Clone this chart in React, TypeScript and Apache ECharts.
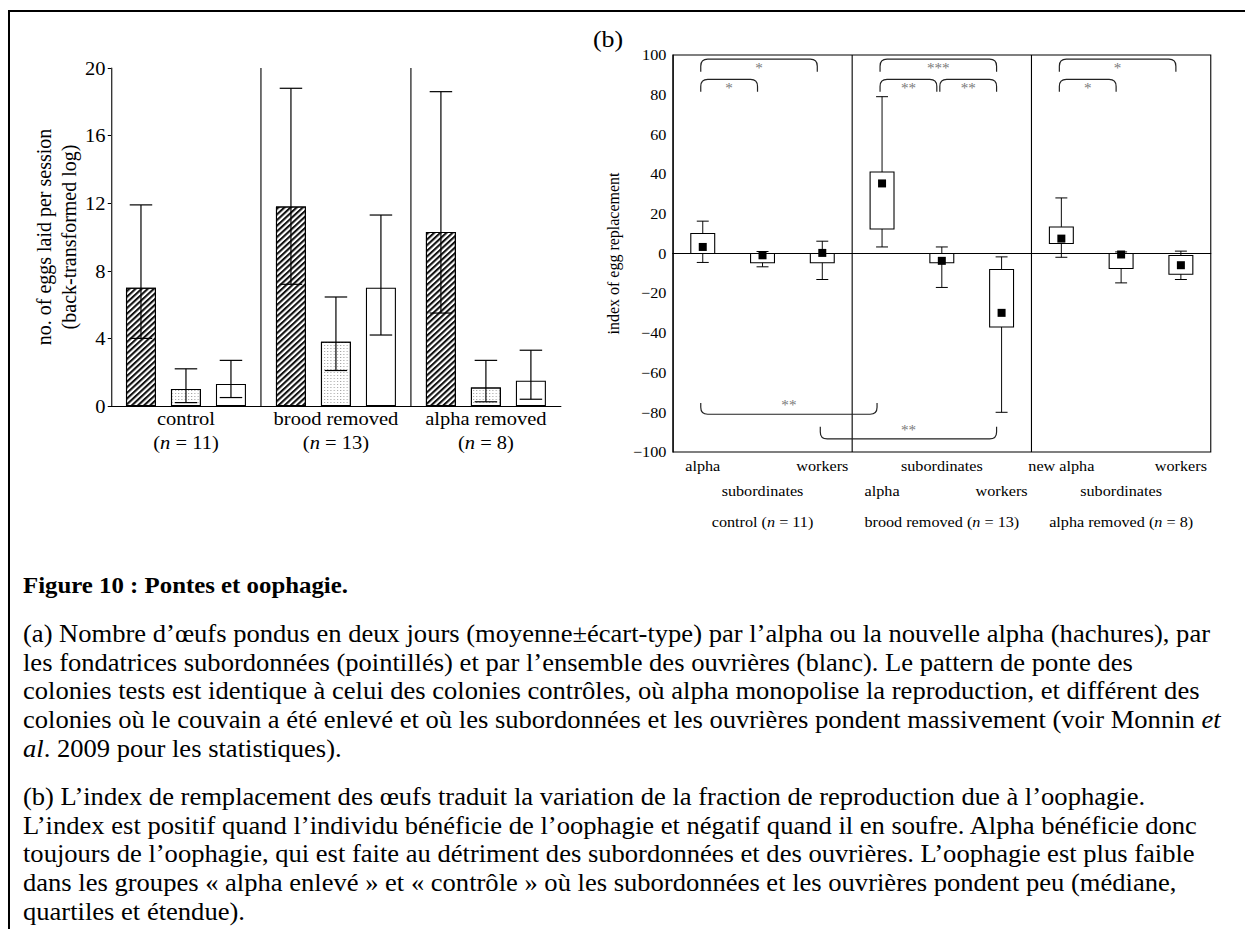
import React, { useEffect, useRef } from "react";
import * as echarts from "echarts";

const SERIF = "'Liberation Serif', 'Times New Roman', serif";
// the reference figure is slightly stretched horizontally
const S = 1.08;
const W = Math.round(1245 / S);
const H = 929;

// ---------- panel (a) ----------
const groupsA = ["control", "brood removed", "alpha removed"];
const groupNsA = ["11", "13", "8"];
const alphaMean = [7.0, 11.8, 10.3];
const alphaLow = [4.0, 7.2, 5.5];
const alphaHigh = [11.9, 18.8, 18.6];
const subMean = [1.0, 3.8, 1.1];
const subLow = [0.2, 2.1, 0.25];
const subHigh = [2.2, 6.45, 2.7];
const workMean = [1.3, 7.0, 1.5];
const workLow = [0.5, 4.2, 0.4];
const workHigh = [2.7, 11.3, 3.3];
const yMinA = 0;
const yMaxA = 20;
const yStepA = 4;

// ---------- panel (b) ----------
const row1B = ["alpha", "", "workers", "", "subordinates", "", "new alpha", "", "workers"];
const row2B = ["", "subordinates", "", "alpha", "", "workers", "", "subordinates", ""];
const row3B = ["", "control", "", "", "brood removed", "", "", "alpha removed", ""];
const row3N = ["", "11", "", "", "13", "", "", "8", ""];
const boxMin = [-4.5, -6.7, -13.1, 3.3, -17.1, -80, -1.9, -14.8, -13.1];
const boxQ1 = [0, -4.7, -4.7, 12.4, -4.7, -37, 5.0, -7.5, -10.4];
const boxMed = [3.3, -0.9, 0.3, 35.3, -3.7, -29.9, 7.5, -0.5, -5.9];
const boxQ3 = [10.1, 0, 0, 41.1, 0, -8.1, 13.4, 0, -1.0];
const boxMax = [16.3, 1.0, 6.2, 79, 3.3, -1.7, 28, 0.8, 1.2];
const yMinB = -100;
const yMaxB = 100;
const yStepB = 20;
// significance brackets: from category, to category, line value, tip value, label
const brFrom = [0, 0, 3, 3, 4, 6, 6, 0, 2];
const brTo = [2, 1, 5, 4, 5, 8, 7, 3, 5];
const brLine = [97.9, 87.7, 97.9, 87.7, 87.7, 97.9, 87.7, -81, -93.4];
const brTip = [91.5, 81.5, 91.5, 81.5, 81.5, 91.5, 81.5, -75.3, -87.3];
const brLabel = ["*", "*", "***", "**", "**", "*", "*", "**", "**"];

// ---------- caption ----------
const captionTitle = "Figure 10 : Pontes et oophagie.";
const captionA = [
  "(a) Nombre d’œufs pondus en deux jours (moyenne±écart-type) par l’alpha ou la nouvelle alpha (hachures), par",
  "les fondatrices subordonnées (pointillés) et par l’ensemble des ouvrières (blanc). Le pattern de ponte des",
  "colonies tests est identique à celui des colonies contrôles, où alpha monopolise la reproduction, et différent des",
  "colonies où le couvain a été enlevé et où les subordonnées et les ouvrières pondent massivement (voir Monnin {i|et}",
  "{i|al}. 2009 pour les statistiques).",
];
const captionB = [
  "(b) L’index de remplacement des œufs traduit la variation de la fraction de reproduction due à l’oophagie.",
  "L’index est positif quand l’individu bénéficie de l’oophagie et négatif quand il en soufre. Alpha bénéficie donc",
  "toujours de l’oophagie, qui est faite au détriment des subordonnées et des ouvrières. L’oophagie est plus faible",
  "dans les groupes « alpha enlevé » et « contrôle » où les subordonnées et les ouvrières pondent peu (médiane,",
  "quartiles et étendue).",
];

function buildOption() {
  const errData: number[][] = [];
  const lows = [alphaLow, subLow, workLow];
  const highs = [alphaHigh, subHigh, workHigh];
  for (let g = 0; g < groupsA.length; g++) {
    for (let s = 0; s < 3; s++) errData.push([g, s, lows[s][g], highs[s][g]]);
  }
  const boxData = boxMin.map((_, i) => [i, boxMin[i], boxQ1[i], boxMed[i], boxQ3[i], boxMax[i]]);
  const brData = brFrom.map((_, i) => [brFrom[i], brTo[i], brLine[i], brTip[i], i]);

  const sepRender = (params: any, api: any) => {
    const top = api.coord([api.value(0), api.value(2)]);
    const bot = api.coord([api.value(0), api.value(1)]);
    const bw = api.size([1, 0])[0];
    const x = top[0] - bw / 2;
    return {
      type: "line",
      shape: { x1: x, y1: top[1], x2: x, y2: bot[1] },
      style: { stroke: "#000", lineWidth: 1.1 / S },
    };
  };

  const capFont = 24.6;
  const capX = 23 / S;
  const capStep = 28.6;
  const captionEls: any[] = [];
  captionEls.push({
    type: "text",
    x: capX,
    y: 585,
    style: {
      text: captionTitle,
      fontFamily: SERIF,
      fontSize: 23,
      fontWeight: "bold",
      fill: "#000",
      verticalAlign: "middle",
    },
  });
  captionA.forEach((t, i) => {
    captionEls.push({
      type: "text",
      x: capX,
      y: 634 + i * capStep,
      style: {
        text: t,
        fontFamily: SERIF,
        fontSize: capFont,
        fill: "#000",
        verticalAlign: "middle",
        rich: { i: { fontStyle: "italic", fontFamily: SERIF, fontSize: capFont, fill: "#000" } },
      },
    });
  });
  captionB.forEach((t, i) => {
    captionEls.push({
      type: "text",
      x: capX,
      y: 797 + i * capStep,
      style: { text: t, fontFamily: SERIF, fontSize: capFont, fill: "#000", verticalAlign: "middle" },
    });
  });

  const labelB = { interval: 0, fontSize: 15, color: "#000", fontFamily: SERIF, margin: 6 };

  return {
    animation: false,
    backgroundColor: "#fff",
    textStyle: { fontFamily: SERIF, color: "#000" },
    grid: [
      { left: 111 / S, top: 68, width: 450 / S, height: 338, show: false },
      {
        left: 673 / S,
        top: 55,
        width: 538 / S,
        height: 397,
        show: true,
        borderColor: "#000",
        borderWidth: 1,
        backgroundColor: "transparent",
      },
    ],
    xAxis: [
      {
        gridIndex: 0,
        type: "category",
        data: groupsA,
        axisLine: { lineStyle: { color: "#000", width: 1 } },
        axisTick: { show: false },
        splitLine: { show: false },
        axisLabel: {
          interval: 0,
          color: "#000",
          fontFamily: SERIF,
          fontSize: 19,
          lineHeight: 24,
          margin: 0,
          formatter: (v: string, i: number) => `${v}\n({i|n} = ${groupNsA[i]})`,
          rich: { i: { fontStyle: "italic", fontSize: 19, lineHeight: 24, fontFamily: SERIF, color: "#000" } },
        },
      },
      {
        gridIndex: 1,
        type: "category",
        data: row1B,
        position: "bottom",
        axisLine: { lineStyle: { color: "#000" } },
        axisTick: { show: false },
        axisLabel: labelB,
      },
      {
        gridIndex: 1,
        type: "category",
        data: row2B,
        position: "bottom",
        offset: 25,
        axisLine: { show: false },
        axisTick: { show: false },
        axisLabel: labelB,
      },
      {
        gridIndex: 1,
        type: "category",
        data: row3B,
        position: "bottom",
        offset: 56,
        axisLine: { show: false },
        axisTick: { show: false },
        axisLabel: {
          ...labelB,
          formatter: (v: string, i: number) => (v ? `${v} ({i|n} = ${row3N[i]})` : ""),
          rich: { i: { fontStyle: "italic", fontSize: 15, fontFamily: SERIF, color: "#000" } },
        },
      },
    ],
    yAxis: [
      {
        gridIndex: 0,
        type: "value",
        min: yMinA,
        max: yMaxA,
        interval: yStepA,
        axisLine: { show: true, lineStyle: { color: "#000" } },
        axisTick: { show: true, length: 3, lineStyle: { color: "#000" } },
        splitLine: { show: false },
        axisLabel: { fontSize: 19, fontFamily: SERIF, color: "#000", margin: 5 },
        name: "no. of eggs laid per session\n(back-transformed log)",
        nameLocation: "middle",
        nameRotate: 90,
        nameGap: 25,
        nameTextStyle: { fontSize: 20, lineHeight: 23, fontFamily: SERIF, color: "#000" },
      },
      {
        gridIndex: 1,
        type: "value",
        min: yMinB,
        max: yMaxB,
        interval: yStepB,
        axisLine: { show: true, lineStyle: { color: "#000" } },
        axisTick: { show: false },
        splitLine: { show: false },
        axisLabel: {
          fontSize: 15,
          fontFamily: SERIF,
          color: "#000",
          margin: 6,
          formatter: (v: number) => (v < 0 ? "\u2212" + Math.abs(v) : String(v)),
        },
        name: "index of egg replacement",
        nameLocation: "middle",
        nameRotate: 90,
        nameGap: 47,
        nameTextStyle: { fontSize: 16, fontFamily: SERIF, color: "#000" },
      },
    ],
    series: [
      {
        type: "bar",
        xAxisIndex: 0,
        yAxisIndex: 0,
        data: alphaMean,
        barWidth: "20%",
        barGap: "50%",
        itemStyle: {
          color: "#fff",
          borderColor: "#000",
          borderWidth: 1,
          decal: {
            symbol: "rect",
            symbolSize: 1,
            color: "#111",
            dashArrayX: [1, 0],
            dashArrayY: [2, 2],
            rotation: -Math.PI / 4,
          },
        },
      },
      {
        type: "bar",
        xAxisIndex: 0,
        yAxisIndex: 0,
        data: subMean,
        barWidth: "20%",
        barGap: "50%",
        itemStyle: {
          color: "#fff",
          borderColor: "#000",
          borderWidth: 1,
          decal: {
            symbol: "rect",
            symbolSize: 1,
            color: "#a0a0a0",
            dashArrayX: [1, 2],
            dashArrayY: [1, 2],
            rotation: 0,
          },
        },
      },
      {
        type: "bar",
        xAxisIndex: 0,
        yAxisIndex: 0,
        data: workMean,
        barWidth: "20%",
        barGap: "50%",
        itemStyle: { color: "#fff", borderColor: "#000", borderWidth: 1 },
      },
      {
        type: "custom",
        xAxisIndex: 0,
        yAxisIndex: 0,
        data: errData,
        z: 5,
        renderItem: (params: any, api: any) => {
          const g = api.value(0);
          const s = api.value(1);
          const bw = api.size([1, 0])[0];
          const hi = api.coord([g, api.value(3)]);
          const lo = api.coord([g, api.value(2)]);
          const x = hi[0] + (s - 1) * 0.3 * bw;
          const cap = 0.075 * bw;
          const st = { stroke: "#000", lineWidth: 1.2 };
          return {
            type: "group",
            children: [
              { type: "line", shape: { x1: x, y1: hi[1], x2: x, y2: lo[1] }, style: { ...st, lineWidth: 1.2 / S } },
              { type: "line", shape: { x1: x - cap, y1: hi[1], x2: x + cap, y2: hi[1] }, style: st },
              { type: "line", shape: { x1: x - cap, y1: lo[1], x2: x + cap, y2: lo[1] }, style: st },
            ],
          };
        },
      },
      {
        type: "custom",
        xAxisIndex: 0,
        yAxisIndex: 0,
        data: [
          [1, yMinA, yMaxA],
          [2, yMinA, yMaxA],
        ],
        renderItem: sepRender,
      },
      {
        type: "custom",
        xAxisIndex: 1,
        yAxisIndex: 1,
        data: [
          [3, yMinB, yMaxB],
          [6, yMinB, yMaxB],
        ],
        renderItem: sepRender,
        markLine: {
          silent: true,
          symbol: "none",
          label: { show: false },
          lineStyle: { color: "#000", width: 1, type: "solid" },
          data: [{ yAxis: 0 }],
        },
      },
      {
        type: "custom",
        xAxisIndex: 1,
        yAxisIndex: 1,
        data: boxData,
        z: 5,
        renderItem: (params: any, api: any) => {
          const c = api.value(0);
          const bw = api.size([1, 0])[0];
          const pMin = api.coord([c, api.value(1)]);
          const pQ1 = api.coord([c, api.value(2)]);
          const pMed = api.coord([c, api.value(3)]);
          const pQ3 = api.coord([c, api.value(4)]);
          const pMax = api.coord([c, api.value(5)]);
          const x = pMed[0];
          const hb = 0.2 * bw;
          const cap = 0.1 * bw;
          const st = { stroke: "#000", lineWidth: 1 };
          const sqW = 8 / S;
          return {
            type: "group",
            children: [
              { type: "line", shape: { x1: x, y1: pMax[1], x2: x, y2: pMin[1] }, style: { ...st, lineWidth: 1 / S } },
              { type: "line", shape: { x1: x - cap, y1: pMax[1], x2: x + cap, y2: pMax[1] }, style: st },
              { type: "line", shape: { x1: x - cap, y1: pMin[1], x2: x + cap, y2: pMin[1] }, style: st },
              {
                type: "rect",
                shape: { x: x - hb, y: pQ3[1], width: 2 * hb, height: pQ1[1] - pQ3[1] },
                style: { fill: "#fff", stroke: "#000", lineWidth: 1 },
              },
              {
                type: "rect",
                shape: { x: x - sqW / 2, y: pMed[1] - 4, width: sqW, height: 8 },
                style: { fill: "#000" },
              },
            ],
          };
        },
      },
      {
        type: "custom",
        xAxisIndex: 1,
        yAxisIndex: 1,
        data: brData,
        z: 6,
        renderItem: (params: any, api: any) => {
          const a = api.coord([api.value(0), api.value(2)]);
          const b = api.coord([api.value(1), api.value(2)]);
          const tip = api.coord([api.value(0), api.value(3)]);
          const yL = a[1];
          const yT = tip[1];
          const sg = yT > yL ? 1 : -1;
          const x1 = a[0] - 2 / S;
          const x2 = b[0] - 5 / S;
          const r = 7;
          const rx = r / S;
          const d =
            `M${x1},${yT} L${x1},${yL + sg * r} Q${x1},${yL} ${x1 + rx},${yL} ` +
            `L${x2 - rx},${yL} Q${x2},${yL} ${x2},${yL + sg * r} L${x2},${yT}`;
          const lbl = brLabel[api.value(4)];
          return {
            type: "group",
            children: [
              { type: "path", shape: { pathData: d }, style: { fill: "none", stroke: "#222", lineWidth: 1.1 } },
              {
                type: "text",
                x: (x1 + x2) / 2,
                y: yL + sg * 9,
                style: {
                  text: lbl,
                  fill: "#7a7a7a",
                  fontSize: 14,
                  fontFamily: SERIF,
                  align: "center",
                  verticalAlign: "middle",
                },
              },
            ],
          };
        },
      },
    ],
    graphic: [
      { type: "line", shape: { x1: 8 / S, y1: 11, x2: W, y2: 11 }, style: { stroke: "#000", lineWidth: 2 } },
      { type: "line", shape: { x1: 9 / S, y1: 10, x2: 9 / S, y2: H }, style: { stroke: "#000", lineWidth: 2 / S } },
      {
        type: "text",
        x: 593 / S,
        y: 39,
        style: { text: "(b)", fontFamily: SERIF, fontSize: 24, fill: "#000", verticalAlign: "middle" },
      },
      ...captionEls,
    ],
  };
}

export default function App() {
  const ref = useRef<HTMLDivElement>(null);
  useEffect(() => {
    if (!ref.current) return;
    const chart = echarts.init(ref.current, undefined, { renderer: "svg" });
    chart.setOption(buildOption() as any);
    return () => chart.dispose();
  }, []);
  return (
    <div
      style={{ position: "absolute", left: 0, top: 0, width: 1245, height: H, overflow: "hidden", background: "#fff" }}
    >
      <div
        ref={ref}
        style={{
          width: W,
          height: H,
          transform: `scaleX(${1245 / W})`,
          transformOrigin: "0 0",
          background: "#fff",
        }}
      />
    </div>
  );
}
